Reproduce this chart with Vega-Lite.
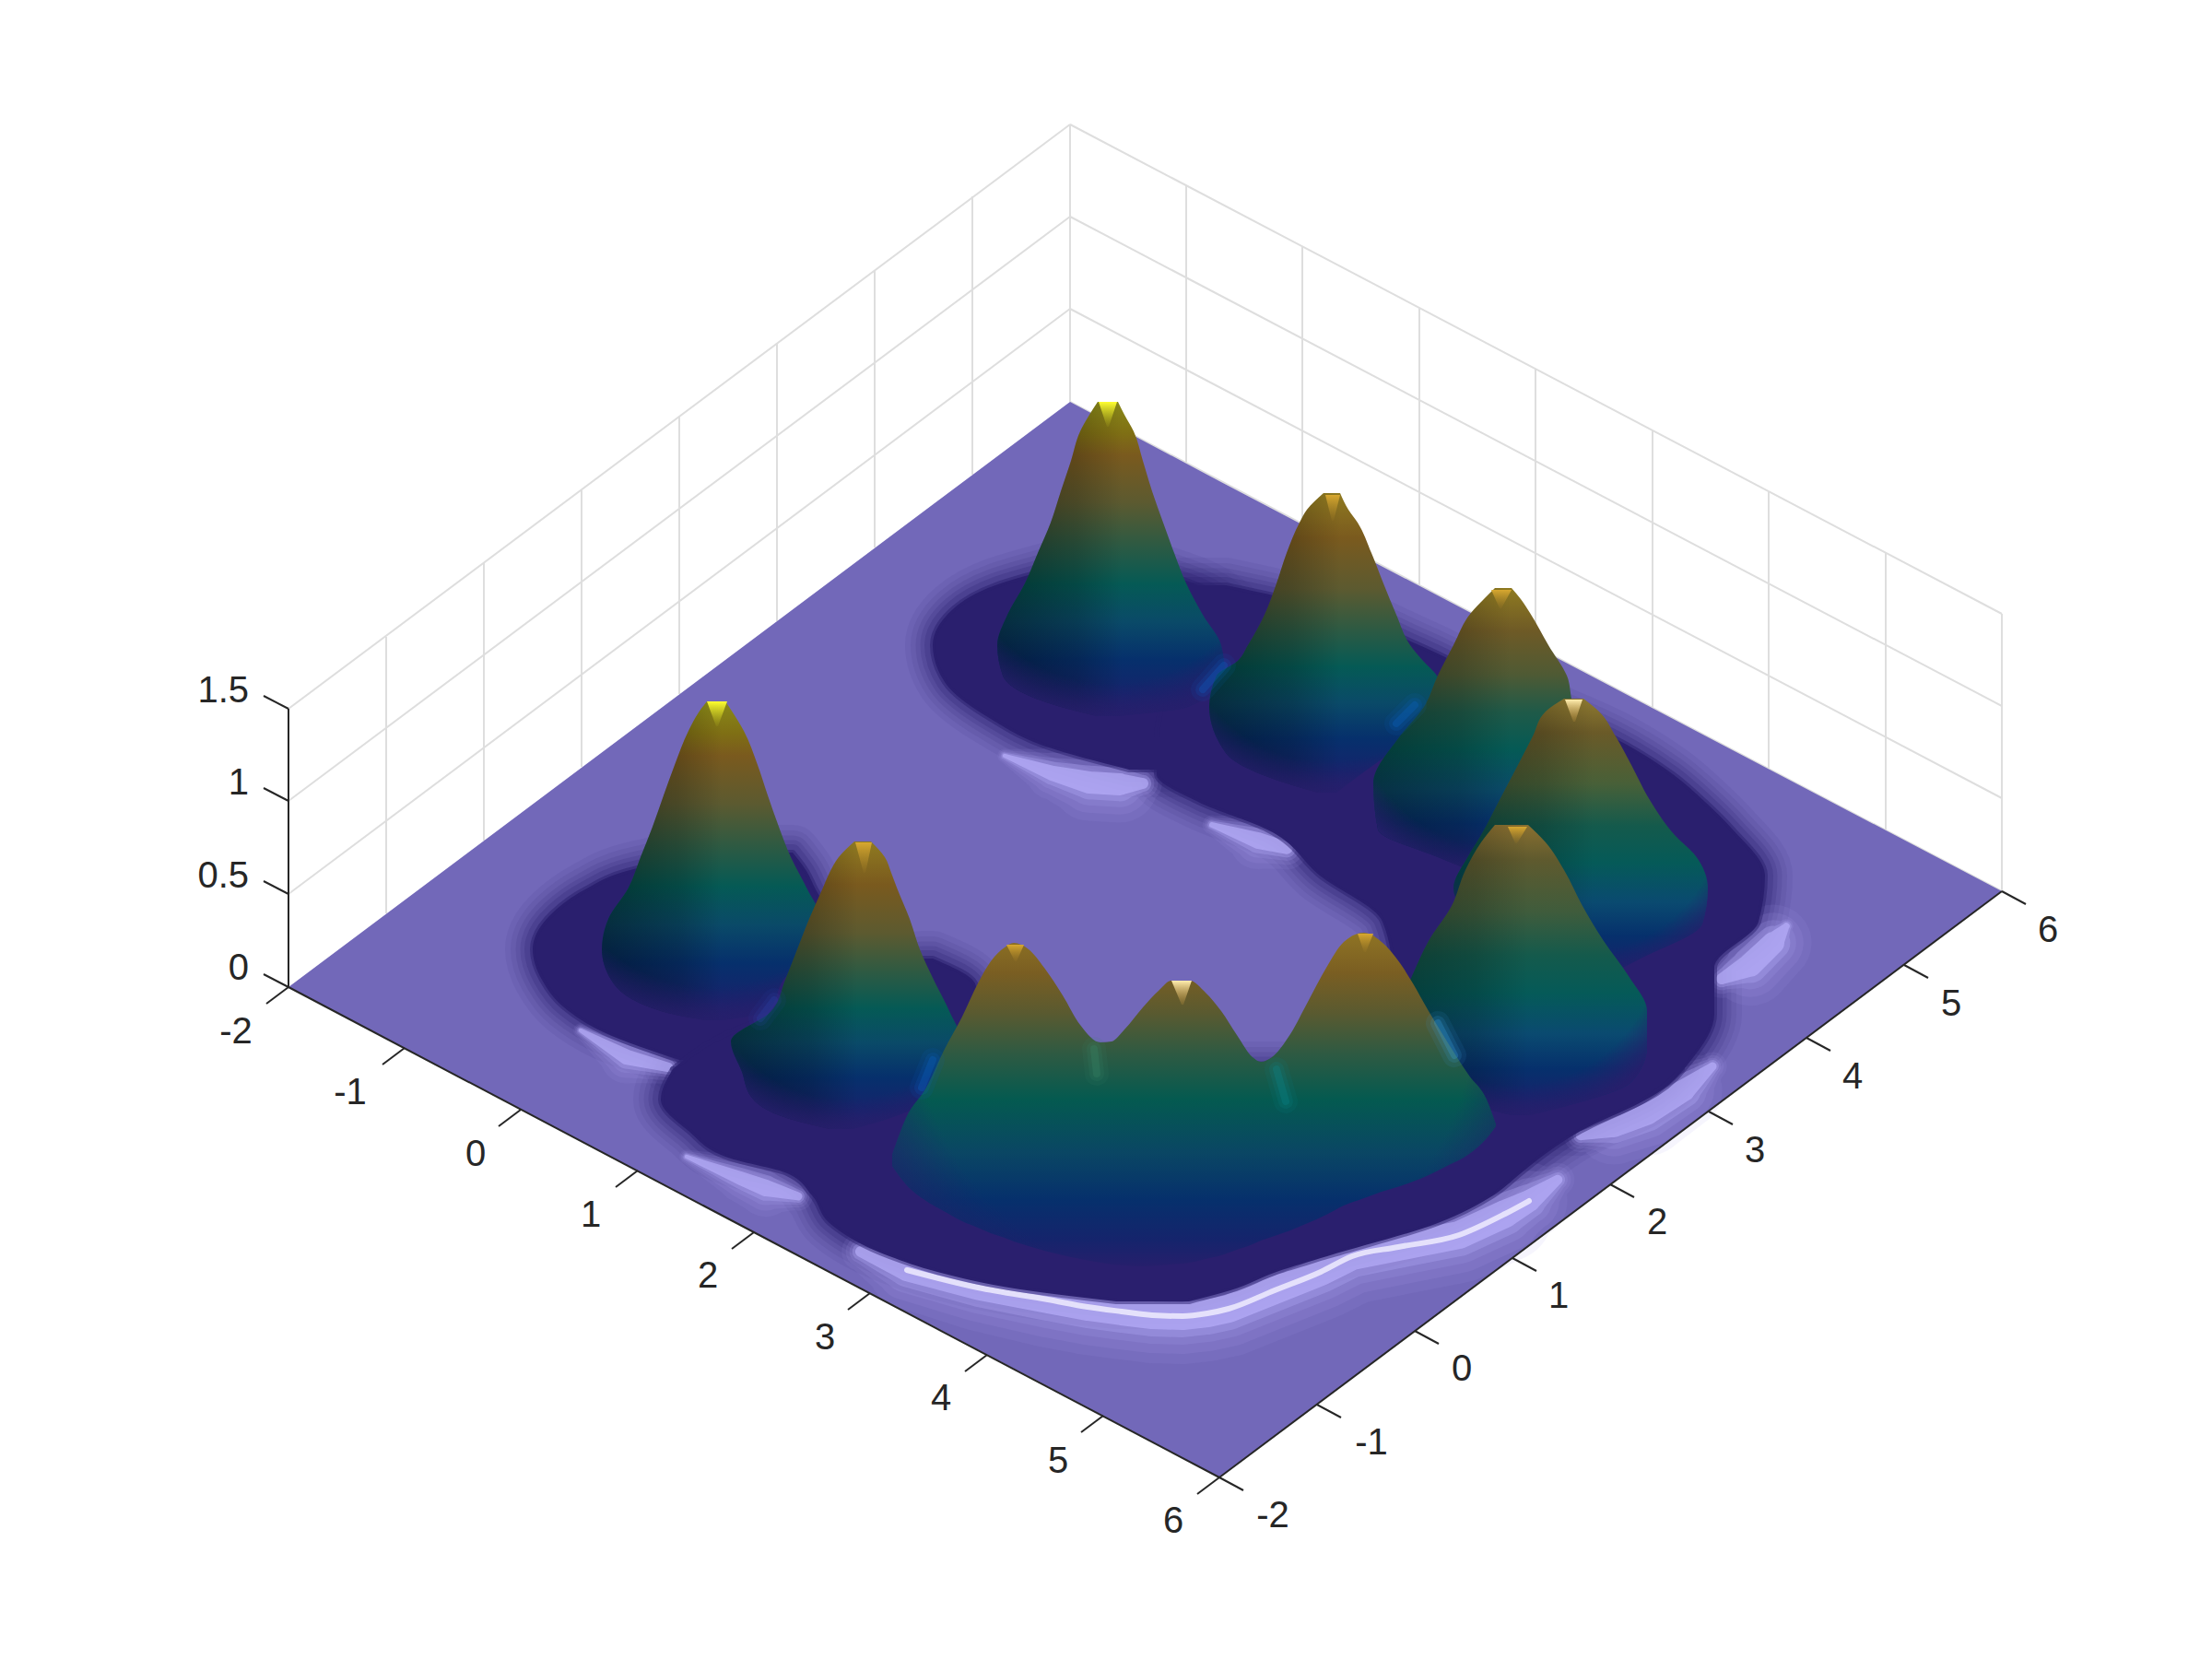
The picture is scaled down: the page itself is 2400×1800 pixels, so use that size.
{"$schema":"https://vega.github.io/schema/vega-lite/v6.json","width":2400,"height":1800,"autosize":{"type":"fit","contains":"padding"},"padding":0,"background":"white","config":{"view":{"stroke":null}},
"datasets":{
"grid":[{"x":419,"y":691,"x2":419,"y2":991},{"x":525,"y":610,"x2":525,"y2":912},{"x":631,"y":531,"x2":631,"y2":832},{"x":737,"y":451,"x2":737,"y2":753},{"x":843,"y":372,"x2":843,"y2":674},{"x":949,"y":293,"x2":949,"y2":594},{"x":1055,"y":213,"x2":1055,"y2":515},{"x":1161,"y":135,"x2":1161,"y2":436},{"x":1287,"y":201,"x2":1287,"y2":502},{"x":1413,"y":268,"x2":1413,"y2":569},{"x":1540,"y":334,"x2":1540,"y2":635},{"x":1666,"y":401,"x2":1666,"y2":702},{"x":1793,"y":467,"x2":1793,"y2":768},{"x":1919,"y":533,"x2":1919,"y2":834},{"x":2046,"y":600,"x2":2046,"y2":901},{"x":2172,"y":666,"x2":2172,"y2":967},{"x":313,"y":970,"x2":1161,"y2":335},{"x":313,"y":869,"x2":1161,"y2":235},{"x":313,"y":769,"x2":1161,"y2":135},{"x":1161,"y":335,"x2":2172,"y2":866},{"x":1161,"y":235,"x2":2172,"y2":766},{"x":1161,"y":135,"x2":2172,"y2":666},{"x":1161,"y":436,"x2":2172,"y2":967}],
"floor":[{"x":313,"y":1071,"y2":1071},{"x":1161,"y":436,"y2":1517},{"x":1323,"y":522,"y2":1603},{"x":2172,"y":967,"y2":967}],
"axes":[{"x":313,"y":1071,"x2":1323,"y2":1603},{"x":1323,"y":1603,"x2":2172,"y2":967},{"x":313,"y":1071,"x2":313,"y2":769},{"x":313,"y":1071,"x2":289,"y2":1089},{"x":439,"y":1137,"x2":415,"y2":1155},{"x":565,"y":1204,"x2":541,"y2":1222},{"x":692,"y":1270,"x2":668,"y2":1288},{"x":818,"y":1337,"x2":794,"y2":1355},{"x":944,"y":1403,"x2":920,"y2":1421},{"x":1071,"y":1470,"x2":1047,"y2":1488},{"x":1197,"y":1536,"x2":1173,"y2":1554},{"x":1323,"y":1603,"x2":1299,"y2":1621},{"x":1323,"y":1603,"x2":1349,"y2":1617},{"x":1429,"y":1524,"x2":1455,"y2":1538},{"x":1535,"y":1444,"x2":1561,"y2":1458},{"x":1641,"y":1365,"x2":1667,"y2":1379},{"x":1747,"y":1285,"x2":1773,"y2":1299},{"x":1854,"y":1206,"x2":1880,"y2":1220},{"x":1960,"y":1126,"x2":1986,"y2":1140},{"x":2066,"y":1047,"x2":2092,"y2":1061},{"x":2172,"y":967,"x2":2198,"y2":981},{"x":313,"y":1071,"x2":286,"y2":1057},{"x":313,"y":970,"x2":286,"y2":956},{"x":313,"y":869,"x2":286,"y2":855},{"x":313,"y":769,"x2":286,"y2":755}],
"labels":[{"x":256,"y":1117,"t":"-2"},{"x":380,"y":1183,"t":"-1"},{"x":516,"y":1250,"t":"0"},{"x":641,"y":1316,"t":"1"},{"x":768,"y":1382,"t":"2"},{"x":895,"y":1449,"t":"3"},{"x":1021,"y":1515,"t":"4"},{"x":1148,"y":1583,"t":"5"},{"x":1273,"y":1648,"t":"6"},{"x":1381,"y":1642,"t":"-2"},{"x":1488,"y":1563,"t":"-1"},{"x":1586,"y":1483,"t":"0"},{"x":1691,"y":1404,"t":"1"},{"x":1798,"y":1324,"t":"2"},{"x":1904,"y":1246,"t":"3"},{"x":2010,"y":1166,"t":"4"},{"x":2117,"y":1087,"t":"5"},{"x":2222,"y":1007,"t":"6"}],
"zlabels":[{"x":270,"y":1048,"t":"0"},{"x":270,"y":948,"t":"0.5"},{"x":270,"y":847,"t":"1"},{"x":270,"y":747,"t":"1.5"}],
"halo":[{"g":"A","y":615,"x":1150,"x2":1240},{"g":"A","y":635,"x":1080,"x2":1300},{"g":"A","y":660,"x":1035,"x2":1340},{"g":"A","y":700,"x":1012,"x2":1370},{"g":"A","y":740,"x":1025,"x2":1400},{"g":"A","y":780,"x":1075,"x2":1420},{"g":"A","y":810,"x":1135,"x2":1420},{"g":"A","y":835,"x":1225,"x2":1400},
{"g":"S","y":635,"x":1285,"x2":1330},{"g":"S","y":660,"x":1270,"x2":1440},{"g":"S","y":700,"x":1260,"x2":1540},{"g":"S","y":760,"x":1260,"x2":1660},{"g":"S","y":800,"x":1255,"x2":1750},{"g":"S","y":840,"x":1255,"x2":1815},{"g":"S","y":870,"x":1300,"x2":1850},{"g":"S","y":900,"x":1375,"x2":1880},{"g":"S","y":950,"x":1432,"x2":1915},{"g":"S","y":1000,"x":1500,"x2":1908},{"g":"S","y":1050,"x":1510,"x2":1860},{"g":"S","y":1100,"x":1510,"x2":1860},{"g":"S","y":1150,"x":1510,"x2":1835},{"g":"S","y":1186,"x":1510,"x2":1798},{"g":"S","y":1224,"x":1510,"x2":1715},
{"g":"G","y":925,"x":780,"x2":860},{"g":"G","y":945,"x":680,"x2":875},{"g":"G","y":965,"x":635,"x2":885},{"g":"G","y":990,"x":600,"x2":900},{"g":"G","y":1030,"x":578,"x2":930},{"g":"G","y":1063,"x":588,"x2":960},{"g":"G","y":1093,"x":612,"x2":980},{"g":"G","y":1120,"x":655,"x2":1000},{"g":"G","y":1150,"x":737,"x2":1000},
{"g":"F","y":1040,"x":1000,"x2":1012},{"g":"F","y":1067,"x":1000,"x2":1058},{"g":"F","y":1100,"x":850,"x2":1065},{"g":"F","y":1160,"x":730,"x2":1110},
{"g":"L","y":1160,"x":730,"x2":1825},{"g":"L","y":1193,"x":717,"x2":1785},{"g":"L","y":1227,"x":747,"x2":1715},{"g":"L","y":1257,"x":793,"x2":1670},{"g":"L","y":1273,"x":854,"x2":1650},{"g":"L","y":1297,"x":881,"x2":1620},{"g":"L","y":1327,"x":900,"x2":1560},{"g":"L","y":1363,"x":965,"x2":1440},{"g":"L","y":1380,"x":1017,"x2":1385},{"g":"L","y":1400,"x":1114,"x2":1335},{"g":"L","y":1412,"x":1211,"x2":1290}],
"rim":[{"g":"R1","s":"strong","w":0.4,"x":934,"y":1358},{"g":"R1","s":"strong","w":0.8,"x":984,"y":1378},{"g":"R1","s":"strong","w":0.9,"x":1061,"y":1397},{"g":"R1","s":"strong","w":1,"x":1137,"y":1410},{"g":"R1","s":"strong","w":1,"x":1180,"y":1418},{"g":"R1","s":"strong","w":1,"x":1217,"y":1423},{"g":"R1","s":"strong","w":1,"x":1250,"y":1427},{"g":"R1","s":"strong","w":1,"x":1283,"y":1428},{"g":"R1","s":"strong","w":1,"x":1310,"y":1425},{"g":"R1","s":"strong","w":1,"x":1333,"y":1420},{"g":"R1","s":"strong","w":1,"x":1383,"y":1400},{"g":"R1","s":"strong","w":1,"x":1433,"y":1380},{"g":"R1","s":"strong","w":1,"x":1467,"y":1363},{"g":"R1","s":"strong","w":1,"x":1517,"y":1353},{"g":"R1","s":"strong","w":1,"x":1583,"y":1340},{"g":"R1","s":"strong","w":1,"x":1633,"y":1317},{"g":"R1","s":"strong","w":0.8,"x":1659,"y":1303},{"g":"R1","s":"strong","w":0.35,"x":1690,"y":1280},
{"g":"R2","s":"mid","w":0.35,"x":1715,"y":1232},{"g":"R2","s":"mid","w":0.8,"x":1751,"y":1222},{"g":"R2","s":"mid","w":0.9,"x":1787,"y":1207},{"g":"R2","s":"mid","w":0.8,"x":1827,"y":1183},{"g":"R2","s":"mid","w":0.3,"x":1858,"y":1157},
{"g":"R3","s":"mid","w":0.4,"x":1868,"y":1062},{"g":"R3","s":"mid","w":0.85,"x":1899,"y":1047},{"g":"R3","s":"mid","w":0.8,"x":1924,"y":1023},{"g":"R3","s":"mid","w":0.25,"x":1938,"y":1005},
{"g":"R4","s":"weak","w":0.15,"x":630,"y":1118},{"g":"R4","s":"weak","w":0.55,"x":680,"y":1147},{"g":"R4","s":"weak","w":0.35,"x":725,"y":1158},
{"g":"R5","s":"weak","w":0.15,"x":745,"y":1255},{"g":"R5","s":"weak","w":0.5,"x":805,"y":1279},{"g":"R5","s":"weak","w":0.6,"x":831,"y":1289},{"g":"R5","s":"weak","w":0.3,"x":866,"y":1298},
{"g":"R7","s":"mid","w":0.15,"x":1090,"y":820},{"g":"R7","s":"mid","w":0.55,"x":1142,"y":839},{"g":"R7","s":"mid","w":0.8,"x":1182,"y":849},{"g":"R7","s":"mid","w":0.8,"x":1215,"y":851},{"g":"R7","s":"mid","w":0.4,"x":1240,"y":850},
{"g":"R8","s":"mid","w":0.2,"x":1315,"y":895},{"g":"R8","s":"mid","w":0.6,"x":1365,"y":912},{"g":"R8","s":"mid","w":0.45,"x":1396,"y":920}],
"peaks":[{"p":"A","y":436,"x":1191,"x2":1213},{"p":"A","y":450,"x":1182,"x2":1220},{"p":"A","y":468,"x":1172,"x2":1230},{"p":"A","y":500,"x":1162,"x2":1240},{"p":"A","y":533,"x":1151,"x2":1250},{"p":"A","y":567,"x":1140,"x2":1262},{"p":"A","y":600,"x":1126,"x2":1274},{"p":"A","y":633,"x":1112,"x2":1287},{"p":"A","y":667,"x":1093,"x2":1305},{"p":"A","y":700,"x":1082,"x2":1325},{"p":"A","y":733,"x":1088,"x2":1329},{"p":"A","y":767,"x":1151,"x2":1289},{"p":"A","y":777,"x":1190,"x2":1215},
{"p":"B","y":535,"x":1436,"x2":1454},{"p":"B","y":553,"x":1418,"x2":1463},{"p":"B","y":567,"x":1410,"x2":1473},{"p":"B","y":600,"x":1396,"x2":1488},{"p":"B","y":633,"x":1385,"x2":1501},{"p":"B","y":667,"x":1372,"x2":1515},{"p":"B","y":700,"x":1354,"x2":1530},{"p":"B","y":717,"x":1343,"x2":1544},{"p":"B","y":733,"x":1320,"x2":1559},{"p":"B","y":767,"x":1312,"x2":1570},{"p":"B","y":817,"x":1330,"x2":1508},{"p":"B","y":850,"x":1396,"x2":1463},{"p":"B","y":860,"x":1430,"x2":1450},
{"p":"C","y":638,"x":1622,"x2":1640},{"p":"C","y":650,"x":1610,"x2":1650},{"p":"C","y":665,"x":1596,"x2":1660},{"p":"C","y":700,"x":1577,"x2":1680},{"p":"C","y":733,"x":1560,"x2":1700},{"p":"C","y":767,"x":1545,"x2":1708},{"p":"C","y":800,"x":1518,"x2":1735},{"p":"C","y":850,"x":1490,"x2":1760},{"p":"C","y":900,"x":1495,"x2":1740},{"p":"C","y":930,"x":1560,"x2":1700},{"p":"C","y":950,"x":1610,"x2":1640},
{"p":"D","y":758,"x":1697,"x2":1718},{"p":"D","y":772,"x":1677,"x2":1735},{"p":"D","y":799,"x":1663,"x2":1753},{"p":"D","y":830,"x":1647,"x2":1770},{"p":"D","y":868,"x":1627,"x2":1790},{"p":"D","y":906,"x":1607,"x2":1817},{"p":"D","y":929,"x":1593,"x2":1840},{"p":"D","y":964,"x":1577,"x2":1853},{"p":"D","y":1002,"x":1600,"x2":1847},{"p":"D","y":1040,"x":1640,"x2":1780},{"p":"D","y":1065,"x":1700,"x2":1730},
{"p":"E","y":895,"x":1622,"x2":1658},{"p":"E","y":914,"x":1607,"x2":1677},{"p":"E","y":944,"x":1590,"x2":1697},{"p":"E","y":983,"x":1575,"x2":1717},{"p":"E","y":1021,"x":1550,"x2":1740},{"p":"E","y":1059,"x":1532,"x2":1767},{"p":"E","y":1097,"x":1515,"x2":1787},{"p":"E","y":1136,"x":1500,"x2":1787},{"p":"E","y":1174,"x":1530,"x2":1770},{"p":"E","y":1200,"x":1600,"x2":1700},{"p":"E","y":1210,"x":1640,"x2":1660},
{"p":"G","y":761,"x":767,"x2":787},{"p":"G","y":773,"x":758,"x2":795},{"p":"G","y":793,"x":747,"x2":807},{"p":"G","y":830,"x":732,"x2":822},{"p":"G","y":863,"x":720,"x2":833},{"p":"G","y":897,"x":708,"x2":845},{"p":"G","y":930,"x":695,"x2":858},{"p":"G","y":963,"x":682,"x2":875},{"p":"G","y":997,"x":660,"x2":890},{"p":"G","y":1030,"x":653,"x2":880},{"p":"G","y":1063,"x":663,"x2":850},{"p":"G","y":1097,"x":717,"x2":833},{"p":"G","y":1107,"x":765,"x2":785},
{"p":"F","y":913,"x":927,"x2":945},{"p":"F","y":930,"x":910,"x2":960},{"p":"F","y":947,"x":900,"x2":967},{"p":"F","y":963,"x":893,"x2":973},{"p":"F","y":997,"x":878,"x2":987},{"p":"F","y":1030,"x":865,"x2":998},{"p":"F","y":1063,"x":852,"x2":1013},{"p":"F","y":1097,"x":837,"x2":1030},{"p":"F","y":1130,"x":793,"x2":1043},{"p":"F","y":1163,"x":805,"x2":1035},{"p":"F","y":1190,"x":815,"x2":1015},{"p":"F","y":1215,"x":860,"x2":960},{"p":"F","y":1225,"x":900,"x2":925}],
"merged":[{"x":968,"y":1253,"y2":1265},{"x":983,"y":1213,"y2":1285},{"x":1005,"y":1180,"y2":1303},{"x":1024,"y":1140,"y2":1314},{"x":1044,"y":1103,"y2":1325},{"x":1061,"y":1067,"y2":1332},{"x":1075,"y":1043,"y2":1338},{"x":1090,"y":1028,"y2":1343},{"x":1100,"y":1023,"y2":1347},{"x":1116,"y":1030,"y2":1352},{"x":1133,"y":1050,"y2":1357},{"x":1153,"y":1080,"y2":1362},{"x":1172,"y":1112,"y2":1366},{"x":1194,"y":1131,"y2":1370},{"x":1206,"y":1130,"y2":1372},{"x":1220,"y":1117,"y2":1373},{"x":1240,"y":1093,"y2":1374},{"x":1257,"y":1075,"y2":1373},{"x":1271,"y":1064,"y2":1372},{"x":1291,"y":1064,"y2":1370},{"x":1308,"y":1077,"y2":1366},{"x":1325,"y":1097,"y2":1362},{"x":1342,"y":1123,"y2":1356},{"x":1359,"y":1147,"y2":1350},{"x":1368,"y":1152,"y2":1346},{"x":1380,"y":1147,"y2":1342},{"x":1400,"y":1122,"y2":1335},{"x":1419,"y":1087,"y2":1327},{"x":1439,"y":1050,"y2":1318},{"x":1458,"y":1022,"y2":1308},{"x":1480,"y":1012,"y2":1300},{"x":1499,"y":1022,"y2":1293},{"x":1519,"y":1045,"y2":1287},{"x":1533,"y":1067,"y2":1282},{"x":1550,"y":1097,"y2":1275},{"x":1570,"y":1130,"y2":1265},{"x":1594,"y":1167,"y2":1252},{"x":1613,"y":1193,"y2":1235},{"x":1623,"y":1220,"y2":1222}],
"tips":[{"g":"A","c":"yellow","y":436,"x":1192,"x2":1212},{"g":"A","c":"yellow","y":463,"x":1201,"x2":1203},{"g":"G","c":"yellow","y":761,"x":767,"x2":789},{"g":"G","c":"yellow","y":788,"x":777,"x2":779},{"g":"B","c":"gold","y":537,"x":1438,"x2":1454},{"g":"B","c":"gold","y":565,"x":1445,"x2":1447},{"g":"F","c":"gold","y":914,"x":928,"x2":946},{"g":"F","c":"gold","y":947,"x":937,"x2":939},{"g":"C","c":"gold","y":640,"x":1618,"x2":1640},{"g":"C","c":"gold","y":660,"x":1627,"x2":1629},{"g":"H","c":"gold","y":1025,"x":1092,"x2":1111},{"g":"H","c":"gold","y":1043,"x":1101,"x2":1103},{"g":"E","c":"gold","y":897,"x":1636,"x2":1657},{"g":"E","c":"gold","y":915,"x":1644,"x2":1646},{"g":"J","c":"gold","y":1013,"x":1473,"x2":1490},{"g":"J","c":"gold","y":1033,"x":1480,"x2":1482},{"g":"D","c":"pale","y":759,"x":1698,"x2":1717},{"g":"D","c":"pale","y":783,"x":1707,"x2":1709},{"g":"I","c":"pale","y":1064,"x":1271,"x2":1293},{"g":"I","c":"pale","y":1090,"x":1282,"x2":1284}],
"spots":[{"g":"AB","tone":"blue","x":1305,"y":748},{"g":"AB","tone":"blue","x":1328,"y":722},{"g":"BC","tone":"blue","x":1515,"y":785},{"g":"BC","tone":"blue","x":1535,"y":765},{"g":"FH","tone":"blue","x":1000,"y":1180},{"g":"FH","tone":"blue","x":1012,"y":1150},{"g":"GF","tone":"indigo","x":825,"y":1105},{"g":"GF","tone":"indigo","x":840,"y":1085},{"g":"HI","tone":"green","x":1187,"y":1138},{"g":"HI","tone":"green","x":1190,"y":1165},{"g":"IJ","tone":"teal","x":1385,"y":1160},{"g":"IJ","tone":"teal","x":1395,"y":1195},{"g":"JE","tone":"sky","x":1560,"y":1110},{"g":"JE","tone":"sky","x":1578,"y":1145}]
},
"encoding":{"x":{"field":"x","type":"quantitative","axis":null,"scale":{"domain":[0,2400],"nice":false,"zero":false}},"y":{"field":"y","type":"quantitative","axis":null,"scale":{"domain":[1800,0],"nice":false,"zero":false}}},
"layer":[
{"data":{"name":"grid"},"mark":{"type":"rule","color":"#dedede","strokeWidth":2},"encoding":{"x2":{"field":"x2"},"y2":{"field":"y2"}}},
{"data":{"name":"floor"},"mark":{"type":"area","orient":"vertical","color":"#7268b9"},"encoding":{"y2":{"field":"y2"}}},
{"data":{"name":"halo"},"mark":{"type":"area","orient":"horizontal","interpolate":"monotone","fillOpacity":0,"stroke":"#2a1f6e","strokeOpacity":0.07,"strokeWidth":60,"strokeJoin":"round"},"encoding":{"x2":{"field":"x2"},"detail":{"field":"g"}}},
{"data":{"name":"halo"},"mark":{"type":"area","orient":"horizontal","interpolate":"monotone","fillOpacity":0,"stroke":"#2a1f6e","strokeOpacity":0.09,"strokeWidth":48,"strokeJoin":"round"},"encoding":{"x2":{"field":"x2"},"detail":{"field":"g"}}},
{"data":{"name":"halo"},"mark":{"type":"area","orient":"horizontal","interpolate":"monotone","fillOpacity":0,"stroke":"#2a1f6e","strokeOpacity":0.12,"strokeWidth":37,"strokeJoin":"round"},"encoding":{"x2":{"field":"x2"},"detail":{"field":"g"}}},
{"data":{"name":"halo"},"mark":{"type":"area","orient":"horizontal","interpolate":"monotone","fillOpacity":0,"stroke":"#2a1f6e","strokeOpacity":0.16,"strokeWidth":27,"strokeJoin":"round"},"encoding":{"x2":{"field":"x2"},"detail":{"field":"g"}}},
{"data":{"name":"halo"},"mark":{"type":"area","orient":"horizontal","interpolate":"monotone","fillOpacity":0,"stroke":"#2a1f6e","strokeOpacity":0.22,"strokeWidth":18,"strokeJoin":"round"},"encoding":{"x2":{"field":"x2"},"detail":{"field":"g"}}},
{"data":{"name":"rim"},"transform":[{"calculate":"datum.w*104","as":"s2"}],"mark":{"type":"trail","color":"#a79dea","opacity":0.1},"encoding":{"detail":{"field":"g"},"size":{"field":"s2","type":"quantitative","scale":null,"legend":null}}},
{"data":{"name":"rim"},"transform":[{"calculate":"datum.w*82","as":"s2"}],"mark":{"type":"trail","color":"#a79dea","opacity":0.14},"encoding":{"detail":{"field":"g"},"size":{"field":"s2","type":"quantitative","scale":null,"legend":null}}},
{"data":{"name":"rim"},"transform":[{"calculate":"datum.w*62","as":"s2"}],"mark":{"type":"trail","color":"#a79dea","opacity":0.2},"encoding":{"detail":{"field":"g"},"size":{"field":"s2","type":"quantitative","scale":null,"legend":null}}},
{"data":{"name":"rim"},"transform":[{"calculate":"datum.w*46","as":"s2"}],"mark":{"type":"trail","color":"#b0a6f4","opacity":0.35},"encoding":{"detail":{"field":"g"},"size":{"field":"s2","type":"quantitative","scale":null,"legend":null}}},
{"data":{"name":"rim"},"transform":[{"calculate":"datum.w*30","as":"s2"}],"mark":{"type":"trail","color":"#bdb4ff","opacity":0.6},"encoding":{"detail":{"field":"g"},"size":{"field":"s2","type":"quantitative","scale":null,"legend":null}}},
{"data":{"name":"rim"},"transform":[{"filter":"datum.s=='strong' && datum.w>=0.8"}],"mark":{"type":"line","interpolate":"monotone","stroke":"#f4f1ff","strokeOpacity":0.8,"strokeWidth":6,"strokeCap":"round"},"encoding":{"detail":{"field":"g"}}},
{"data":{"name":"halo"},"mark":{"type":"area","orient":"horizontal","interpolate":"monotone","fill":"#2a1f6e","stroke":"#2a1f6e","strokeOpacity":0.5,"strokeWidth":6,"strokeJoin":"round"},"encoding":{"x2":{"field":"x2"},"detail":{"field":"g"}}},
{"data":{"name":"peaks"},"transform":[{"filter":"datum.p=='A'"}],"mark":{"type":"area","orient":"horizontal","interpolate":"monotone","fill":{"gradient":"linear","x1":0,"y1":0,"x2":0,"y2":1,"stops":[{"offset":0,"color":"#8a8a18"},{"offset":0.1,"color":"#7f6f14"},{"offset":0.17,"color":"#7a5a1e"},{"offset":0.32,"color":"#5c5a30"},{"offset":0.45,"color":"#2f5a42"},{"offset":0.58,"color":"#055a55"},{"offset":0.7,"color":"#0a4a68"},{"offset":0.82,"color":"#06306c"},{"offset":0.93,"color":"#15246c"},{"offset":1,"color":"#261f6c"}]}},"encoding":{"x2":{"field":"x2"}}},
{"data":{"name":"peaks"},"transform":[{"filter":"datum.p=='A'"}],"mark":{"type":"area","orient":"horizontal","interpolate":"monotone","fill":{"gradient":"linear","x1":0,"y1":0,"x2":1,"y2":0,"stops":[{"offset":0,"color":"rgba(0,0,0,0.4)"},{"offset":0.35,"color":"rgba(0,0,0,0.2)"},{"offset":0.55,"color":"rgba(0,0,0,0)"},{"offset":1,"color":"rgba(0,0,0,0)"}]}},"encoding":{"x2":{"field":"x2"}}},
{"data":{"name":"peaks"},"transform":[{"filter":"datum.p=='A'"}],"mark":{"type":"area","orient":"horizontal","interpolate":"monotone","fill":{"gradient":"radial","x1":0.5,"y1":0.4,"r1":0,"x2":0.5,"y2":0.4,"r2":0.62,"stops":[{"offset":0,"color":"rgba(38,31,108,0)"},{"offset":0.8,"color":"rgba(38,31,108,0)"},{"offset":1,"color":"rgba(38,31,108,1)"}]}},"encoding":{"x2":{"field":"x2"}}},
{"data":{"name":"peaks"},"transform":[{"filter":"datum.p=='G'"}],"mark":{"type":"area","orient":"horizontal","interpolate":"monotone","fill":{"gradient":"linear","x1":0,"y1":0,"x2":0,"y2":1,"stops":[{"offset":0,"color":"#8a8a18"},{"offset":0.1,"color":"#7f6f14"},{"offset":0.17,"color":"#7a5a1e"},{"offset":0.32,"color":"#5c5a30"},{"offset":0.45,"color":"#2f5a42"},{"offset":0.58,"color":"#055a55"},{"offset":0.7,"color":"#0a4a68"},{"offset":0.82,"color":"#06306c"},{"offset":0.93,"color":"#15246c"},{"offset":1,"color":"#261f6c"}]}},"encoding":{"x2":{"field":"x2"}}},
{"data":{"name":"peaks"},"transform":[{"filter":"datum.p=='G'"}],"mark":{"type":"area","orient":"horizontal","interpolate":"monotone","fill":{"gradient":"linear","x1":0,"y1":0,"x2":1,"y2":0,"stops":[{"offset":0,"color":"rgba(0,0,0,0.4)"},{"offset":0.35,"color":"rgba(0,0,0,0.2)"},{"offset":0.55,"color":"rgba(0,0,0,0)"},{"offset":1,"color":"rgba(0,0,0,0)"}]}},"encoding":{"x2":{"field":"x2"}}},
{"data":{"name":"peaks"},"transform":[{"filter":"datum.p=='G'"}],"mark":{"type":"area","orient":"horizontal","interpolate":"monotone","fill":{"gradient":"radial","x1":0.5,"y1":0.4,"r1":0,"x2":0.5,"y2":0.4,"r2":0.62,"stops":[{"offset":0,"color":"rgba(38,31,108,0)"},{"offset":0.8,"color":"rgba(38,31,108,0)"},{"offset":1,"color":"rgba(38,31,108,1)"}]}},"encoding":{"x2":{"field":"x2"}}},
{"data":{"name":"peaks"},"transform":[{"filter":"datum.p=='B'"}],"mark":{"type":"area","orient":"horizontal","interpolate":"monotone","fill":{"gradient":"linear","x1":0,"y1":0,"x2":0,"y2":1,"stops":[{"offset":0,"color":"#8f7a20"},{"offset":0.15,"color":"#7a5a1e"},{"offset":0.32,"color":"#5c5a30"},{"offset":0.45,"color":"#2f5a42"},{"offset":0.58,"color":"#055a55"},{"offset":0.7,"color":"#0a4a68"},{"offset":0.82,"color":"#06306c"},{"offset":0.93,"color":"#15246c"},{"offset":1,"color":"#261f6c"}]}},"encoding":{"x2":{"field":"x2"}}},
{"data":{"name":"peaks"},"transform":[{"filter":"datum.p=='B'"}],"mark":{"type":"area","orient":"horizontal","interpolate":"monotone","fill":{"gradient":"linear","x1":0,"y1":0,"x2":1,"y2":0,"stops":[{"offset":0,"color":"rgba(0,0,0,0.4)"},{"offset":0.35,"color":"rgba(0,0,0,0.2)"},{"offset":0.55,"color":"rgba(0,0,0,0)"},{"offset":1,"color":"rgba(0,0,0,0)"}]}},"encoding":{"x2":{"field":"x2"}}},
{"data":{"name":"peaks"},"transform":[{"filter":"datum.p=='B'"}],"mark":{"type":"area","orient":"horizontal","interpolate":"monotone","fill":{"gradient":"radial","x1":0.5,"y1":0.4,"r1":0,"x2":0.5,"y2":0.4,"r2":0.62,"stops":[{"offset":0,"color":"rgba(38,31,108,0)"},{"offset":0.8,"color":"rgba(38,31,108,0)"},{"offset":1,"color":"rgba(38,31,108,1)"}]}},"encoding":{"x2":{"field":"x2"}}},
{"data":{"name":"peaks"},"transform":[{"filter":"datum.p=='C'"}],"mark":{"type":"area","orient":"horizontal","interpolate":"monotone","fill":{"gradient":"linear","x1":0,"y1":0,"x2":0,"y2":1,"stops":[{"offset":0,"color":"#8f7a20"},{"offset":0.15,"color":"#6e5a26"},{"offset":0.3,"color":"#4f5a34"},{"offset":0.43,"color":"#1f5a48"},{"offset":0.56,"color":"#055a55"},{"offset":0.7,"color":"#0a4a68"},{"offset":0.82,"color":"#06306c"},{"offset":0.93,"color":"#15246c"},{"offset":1,"color":"#261f6c"}]}},"encoding":{"x2":{"field":"x2"}}},
{"data":{"name":"peaks"},"transform":[{"filter":"datum.p=='C'"}],"mark":{"type":"area","orient":"horizontal","interpolate":"monotone","fill":{"gradient":"linear","x1":0,"y1":0,"x2":1,"y2":0,"stops":[{"offset":0,"color":"rgba(0,0,0,0.35)"},{"offset":0.35,"color":"rgba(0,0,0,0.18)"},{"offset":0.55,"color":"rgba(0,0,0,0)"},{"offset":1,"color":"rgba(0,0,0,0)"}]}},"encoding":{"x2":{"field":"x2"}}},
{"data":{"name":"peaks"},"transform":[{"filter":"datum.p=='C'"}],"mark":{"type":"area","orient":"horizontal","interpolate":"monotone","fill":{"gradient":"radial","x1":0.5,"y1":0.4,"r1":0,"x2":0.5,"y2":0.4,"r2":0.62,"stops":[{"offset":0,"color":"rgba(38,31,108,0)"},{"offset":0.8,"color":"rgba(38,31,108,0)"},{"offset":1,"color":"rgba(38,31,108,1)"}]}},"encoding":{"x2":{"field":"x2"}}},
{"data":{"name":"peaks"},"transform":[{"filter":"datum.p=='D'"}],"mark":{"type":"area","orient":"horizontal","interpolate":"monotone","fill":{"gradient":"linear","x1":0,"y1":0,"x2":0,"y2":1,"stops":[{"offset":0,"color":"#8f7a30"},{"offset":0.12,"color":"#6a5a28"},{"offset":0.3,"color":"#486038"},{"offset":0.45,"color":"#145a4c"},{"offset":0.58,"color":"#055a58"},{"offset":0.72,"color":"#0a4a70"},{"offset":0.84,"color":"#06306c"},{"offset":0.94,"color":"#15246c"},{"offset":1,"color":"#261f6c"}]}},"encoding":{"x2":{"field":"x2"}}},
{"data":{"name":"peaks"},"transform":[{"filter":"datum.p=='D'"}],"mark":{"type":"area","orient":"horizontal","interpolate":"monotone","fill":{"gradient":"linear","x1":0,"y1":0,"x2":1,"y2":0,"stops":[{"offset":0,"color":"rgba(0,0,0,0.35)"},{"offset":0.35,"color":"rgba(0,0,0,0.18)"},{"offset":0.55,"color":"rgba(0,0,0,0)"},{"offset":1,"color":"rgba(0,0,0,0)"}]}},"encoding":{"x2":{"field":"x2"}}},
{"data":{"name":"peaks"},"transform":[{"filter":"datum.p=='D'"}],"mark":{"type":"area","orient":"horizontal","interpolate":"monotone","fill":{"gradient":"radial","x1":0.5,"y1":0.4,"r1":0,"x2":0.5,"y2":0.4,"r2":0.62,"stops":[{"offset":0,"color":"rgba(38,31,108,0)"},{"offset":0.8,"color":"rgba(38,31,108,0)"},{"offset":1,"color":"rgba(38,31,108,1)"}]}},"encoding":{"x2":{"field":"x2"}}},
{"data":{"name":"peaks"},"transform":[{"filter":"datum.p=='F'"}],"mark":{"type":"area","orient":"horizontal","interpolate":"monotone","fill":{"gradient":"linear","x1":0,"y1":0,"x2":0,"y2":1,"stops":[{"offset":0,"color":"#8f7a20"},{"offset":0.15,"color":"#7a5a1e"},{"offset":0.32,"color":"#5c5a30"},{"offset":0.45,"color":"#2f5a42"},{"offset":0.58,"color":"#055a55"},{"offset":0.7,"color":"#0a4a68"},{"offset":0.82,"color":"#06306c"},{"offset":0.93,"color":"#15246c"},{"offset":1,"color":"#261f6c"}]}},"encoding":{"x2":{"field":"x2"}}},
{"data":{"name":"peaks"},"transform":[{"filter":"datum.p=='F'"}],"mark":{"type":"area","orient":"horizontal","interpolate":"monotone","fill":{"gradient":"linear","x1":0,"y1":0,"x2":1,"y2":0,"stops":[{"offset":0,"color":"rgba(0,0,0,0.4)"},{"offset":0.35,"color":"rgba(0,0,0,0.2)"},{"offset":0.55,"color":"rgba(0,0,0,0)"},{"offset":1,"color":"rgba(0,0,0,0)"}]}},"encoding":{"x2":{"field":"x2"}}},
{"data":{"name":"peaks"},"transform":[{"filter":"datum.p=='F'"}],"mark":{"type":"area","orient":"horizontal","interpolate":"monotone","fill":{"gradient":"radial","x1":0.5,"y1":0.4,"r1":0,"x2":0.5,"y2":0.4,"r2":0.62,"stops":[{"offset":0,"color":"rgba(38,31,108,0)"},{"offset":0.8,"color":"rgba(38,31,108,0)"},{"offset":1,"color":"rgba(38,31,108,1)"}]}},"encoding":{"x2":{"field":"x2"}}},
{"data":{"name":"peaks"},"transform":[{"filter":"datum.p=='E'"}],"mark":{"type":"area","orient":"horizontal","interpolate":"monotone","fill":{"gradient":"linear","x1":0,"y1":0,"x2":0,"y2":1,"stops":[{"offset":0,"color":"#8a7030"},{"offset":0.12,"color":"#5f5a2e"},{"offset":0.3,"color":"#3f5c3c"},{"offset":0.45,"color":"#145a4c"},{"offset":0.58,"color":"#055a58"},{"offset":0.72,"color":"#0a4a70"},{"offset":0.84,"color":"#06306c"},{"offset":0.94,"color":"#15246c"},{"offset":1,"color":"#261f6c"}]}},"encoding":{"x2":{"field":"x2"}}},
{"data":{"name":"peaks"},"transform":[{"filter":"datum.p=='E'"}],"mark":{"type":"area","orient":"horizontal","interpolate":"monotone","fill":{"gradient":"linear","x1":0,"y1":0,"x2":1,"y2":0,"stops":[{"offset":0,"color":"rgba(0,0,0,0.35)"},{"offset":0.35,"color":"rgba(0,0,0,0.18)"},{"offset":0.55,"color":"rgba(0,0,0,0)"},{"offset":1,"color":"rgba(0,0,0,0)"}]}},"encoding":{"x2":{"field":"x2"}}},
{"data":{"name":"peaks"},"transform":[{"filter":"datum.p=='E'"}],"mark":{"type":"area","orient":"horizontal","interpolate":"monotone","fill":{"gradient":"radial","x1":0.5,"y1":0.4,"r1":0,"x2":0.5,"y2":0.4,"r2":0.62,"stops":[{"offset":0,"color":"rgba(38,31,108,0)"},{"offset":0.8,"color":"rgba(38,31,108,0)"},{"offset":1,"color":"rgba(38,31,108,1)"}]}},"encoding":{"x2":{"field":"x2"}}},
{"data":{"name":"merged"},"mark":{"type":"area","orient":"vertical","interpolate":"monotone","fill":{"gradient":"linear","x1":0,"y1":0,"x2":0,"y2":1,"stops":[{"offset":0,"color":"#8f7424"},{"offset":0.12,"color":"#7a5e22"},{"offset":0.24,"color":"#5a5a30"},{"offset":0.36,"color":"#2f5a42"},{"offset":0.5,"color":"#045a50"},{"offset":0.66,"color":"#0a4664"},{"offset":0.8,"color":"#06306c"},{"offset":0.92,"color":"#15246c"},{"offset":1,"color":"#261f6c"}]}},"encoding":{"y2":{"field":"y2"}}},
{"data":{"name":"merged"},"mark":{"type":"area","orient":"vertical","interpolate":"monotone","fill":{"gradient":"radial","x1":0.5,"y1":0.35,"r1":0,"x2":0.5,"y2":0.35,"r2":0.62,"stops":[{"offset":0,"color":"rgba(30,35,105,0)"},{"offset":0.75,"color":"rgba(30,35,105,0)"},{"offset":1,"color":"rgba(30,35,105,1)"}]}},"encoding":{"y2":{"field":"y2"}}},
{"data":{"name":"spots"},"mark":{"type":"line","strokeWidth":26,"strokeOpacity":0.1,"strokeCap":"round"},"encoding":{"detail":{"field":"g"},"color":{"field":"tone","type":"nominal","legend":null,"scale":{"domain":["blue","indigo","green","teal","sky"],"range":["#0a64c8","#2a45a8","#3a8a68","#0a8a90","#3aa0e0"]}}}},
{"data":{"name":"spots"},"mark":{"type":"line","strokeWidth":16,"strokeOpacity":0.16,"strokeCap":"round"},"encoding":{"detail":{"field":"g"},"color":{"field":"tone","type":"nominal","legend":null}}},
{"data":{"name":"spots"},"mark":{"type":"line","strokeWidth":8,"strokeOpacity":0.28,"strokeCap":"round"},"encoding":{"detail":{"field":"g"},"color":{"field":"tone","type":"nominal","legend":null}}},
{"data":{"name":"tips"},"transform":[{"filter":"datum.c=='yellow'"}],"mark":{"type":"area","orient":"horizontal","fill":{"gradient":"linear","x1":0,"y1":0,"x2":0,"y2":1,"stops":[{"offset":0,"color":"#ffff30"},{"offset":1,"color":"rgba(190,190,30,0.1)"}]}},"encoding":{"x2":{"field":"x2"},"detail":{"field":"g"}}},
{"data":{"name":"tips"},"transform":[{"filter":"datum.c=='gold'"}],"mark":{"type":"area","orient":"horizontal","fill":{"gradient":"linear","x1":0,"y1":0,"x2":0,"y2":1,"stops":[{"offset":0,"color":"#d8a830"},{"offset":1,"color":"rgba(170,130,40,0.1)"}]}},"encoding":{"x2":{"field":"x2"},"detail":{"field":"g"}}},
{"data":{"name":"tips"},"transform":[{"filter":"datum.c=='pale'"}],"mark":{"type":"area","orient":"horizontal","fill":{"gradient":"linear","x1":0,"y1":0,"x2":0,"y2":1,"stops":[{"offset":0,"color":"#ffeeb0"},{"offset":1,"color":"rgba(200,150,60,0.2)"}]}},"encoding":{"x2":{"field":"x2"},"detail":{"field":"g"}}},
{"data":{"name":"axes"},"mark":{"type":"rule","color":"#262626","strokeWidth":2},"encoding":{"x2":{"field":"x2"},"y2":{"field":"y2"}}},
{"data":{"name":"labels"},"mark":{"type":"text","font":"Liberation Sans","fontSize":40,"color":"#262626","align":"center","baseline":"middle","dy":3},"encoding":{"text":{"field":"t","type":"nominal"}}},
{"data":{"name":"zlabels"},"mark":{"type":"text","font":"Liberation Sans","fontSize":40,"color":"#262626","align":"right","baseline":"middle","dy":3},"encoding":{"text":{"field":"t","type":"nominal"}}}
]}
